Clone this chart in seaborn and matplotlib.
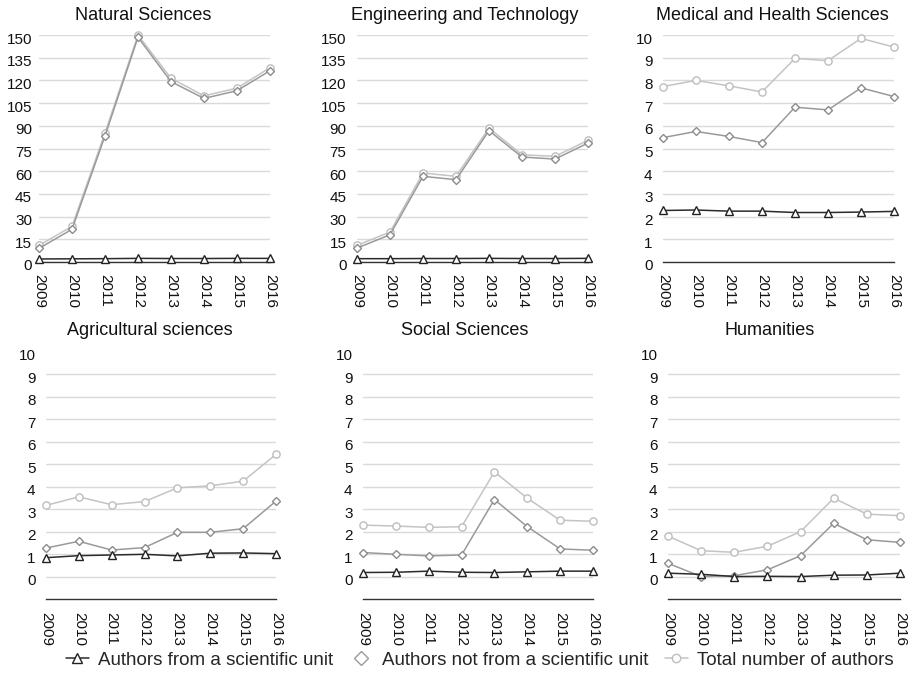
import pandas as pd
import seaborn as sns
import matplotlib.pyplot as plt
from matplotlib.lines import Line2D
from matplotlib.transforms import ScaledTranslation

# data
years = [2009, 2010, 2011, 2012, 2013, 2014, 2015, 2016]
series_names = ['Authors from a scientific unit', 'Authors not from a scientific unit',
                'Total number of authors']

nat_from = [2.0, 2.1, 2.2, 2.4, 2.3, 2.3, 2.4, 2.4]
nat_not = [9.0, 21.6, 83.3, 148.5, 119.2, 108.1, 113.2, 126.4]
nat_total = [11.0, 23.5, 85.3, 150.0, 121.4, 109.8, 114.9, 128.4]

eng_from = [2.2, 2.2, 2.3, 2.3, 2.4, 2.3, 2.3, 2.4]
eng_not = [9.2, 18.0, 56.6, 54.4, 86.8, 69.4, 68.0, 78.6]
eng_total = [11.0, 19.8, 58.8, 56.6, 88.5, 70.9, 69.8, 80.4]

med_from = [2.27, 2.29, 2.24, 2.24, 2.18, 2.18, 2.20, 2.23]
med_not = [5.48, 5.75, 5.53, 5.26, 6.82, 6.70, 7.67, 7.29]
med_total = [7.73, 8.00, 7.76, 7.49, 8.97, 8.87, 9.85, 9.47]

agr_from = [0.84, 0.93, 0.96, 0.99, 0.92, 1.04, 1.05, 1.02]
agr_not = [1.27, 1.57, 1.18, 1.29, 1.97, 1.97, 2.13, 3.36]
agr_total = [3.17, 3.55, 3.20, 3.34, 3.95, 4.04, 4.25, 5.44]

soc_from = [0.18, 0.19, 0.24, 0.19, 0.18, 0.21, 0.24, 0.24]
soc_not = [1.07, 0.99, 0.92, 0.96, 3.43, 2.22, 1.23, 1.17]
soc_total = [2.29, 2.25, 2.19, 2.22, 4.66, 3.49, 2.51, 2.46]

hum_from = [0.15, 0.10, 0.0, 0.01, 0.0, 0.06, 0.07, 0.15]
hum_not = [0.59, 0.0, 0.04, 0.30, 0.93, 2.37, 1.64, 1.52]
hum_total = [1.80, 1.15, 1.08, 1.35, 2.00, 3.49, 2.78, 2.71]

panels = [
    ('Natural Sciences', nat_from, nat_not, nat_total),
    ('Engineering and Technology', eng_from, eng_not, eng_total),
    ('Medical and Health Sciences', med_from, med_not, med_total),
    ('Agricultural sciences', agr_from, agr_not, agr_total),
    ('Social Sciences', soc_from, soc_not, soc_total),
    ('Humanities', hum_from, hum_not, hum_total),
]

sns.set_theme(style='white')
plt.rcParams['font.family'] = ['Liberation Sans', 'DejaVu Sans']

W, H = 909, 680
fig = plt.figure(figsize=(W / 100, H / 100), dpi=100)

# axes boxes in pixels: left, right, top, bottom, title centre
boxes = [
    (39, 270, 35, 262, 143),
    (357, 588, 35, 262, 465),
    (663, 894, 35, 262, 772),
    (46, 276, 352, 599, 150),
    (363, 593, 352, 599, 465),
    (668, 900, 352, 599, 770),
]

styles = [
    # name, marker, line colour, edge colour, size
    ('Total number of authors', 'o', '#c4c4c4', '#bdbdbd', 5.2),
    ('Authors not from a scientific unit', 'D', '#9a9a9a', '#8c8c8c', 4.2),
    ('Authors from a scientific unit', '^', '#2b2b2b', '#222222', 5.5),
]

down = ScaledTranslation(0, -3 / 100, fig.dpi_scale_trans)

for i, (title, s_from, s_not, s_total) in enumerate(panels):
    left, right, top, bottom, tc = boxes[i]
    ax = fig.add_axes([left / W, 1 - bottom / H, (right - left) / W, (bottom - top) / H])
    df = pd.DataFrame({
        'year': years * 3,
        'value': s_from + s_not + s_total,
        'series': [series_names[0]] * 8 + [series_names[1]] * 8 + [series_names[2]] * 8,
    })
    for name, mk, lc, ec, ms in styles:
        sns.lineplot(data=df[df['series'] == name], x='year', y='value', ax=ax,
                     color=lc, lw=1.1, marker=mk, markersize=ms, markerfacecolor='white',
                     markeredgecolor=ec, markeredgewidth=1.0, clip_on=False, zorder=3)

    ax.set_xlim(2009, 2016)
    ax.set_xticks(years)
    ax.set_xticklabels([str(y) for y in years], rotation=-90, va='top', ha='center')
    if i < 3:
        if i < 2:
            ax.set_ylim(0, 150)
            ax.set_yticks(range(0, 151, 15))
        else:
            ax.set_ylim(0, 10)
            ax.set_yticks(range(0, 11))
    else:
        ax.set_ylim(-1, 10)
        ax.set_yticks(range(0, 11))

    ax.set_xlabel('')
    ax.set_ylabel('')
    ax.grid(axis='y', color='#dadada', lw=1.0)
    ax.grid(axis='x', visible=False)
    if i >= 3:
        ax.get_ygridlines()[-1].set_visible(False)
    ax.set_axisbelow(True)
    for side in ['left', 'right', 'top']:
        ax.spines[side].set_visible(False)
    ax.spines['bottom'].set_color('#333333')
    ax.spines['bottom'].set_linewidth(1.0)
    ax.tick_params(axis='both', length=0, labelsize=11, colors='#111111')
    ax.tick_params(axis='y', pad=5 if i == 0 else 7.5)
    ax.tick_params(axis='x', pad=9)
    for lab in ax.get_yticklabels():
        lab.set_transform(lab.get_transform() + down)
    ax.set_title(title, fontsize=13, color='#111111', x=(tc - left) / (right - left),
                 pad=11 if i < 3 else 12)

handles = [
    Line2D([], [], color='#2b2b2b', lw=1.1, marker='^', markersize=7, markerfacecolor='white',
           markeredgecolor='#222222'),
    Line2D([], [], color='none', lw=1.1, marker='D', markersize=7, markerfacecolor='white',
           markeredgecolor='#9a9a9a'),
    Line2D([], [], color='#c4c4c4', lw=1.1, marker='o', markersize=6, markerfacecolor='white',
           markeredgecolor='#bdbdbd'),
]
fig.legend(handles, series_names, loc='center', bbox_to_anchor=(0.528, 1 - 660 / H), ncol=3,
           frameon=False, fontsize=13.5, handlelength=1.2, handletextpad=0.5, columnspacing=0.9)

plt.savefig('out.png', dpi=100)
